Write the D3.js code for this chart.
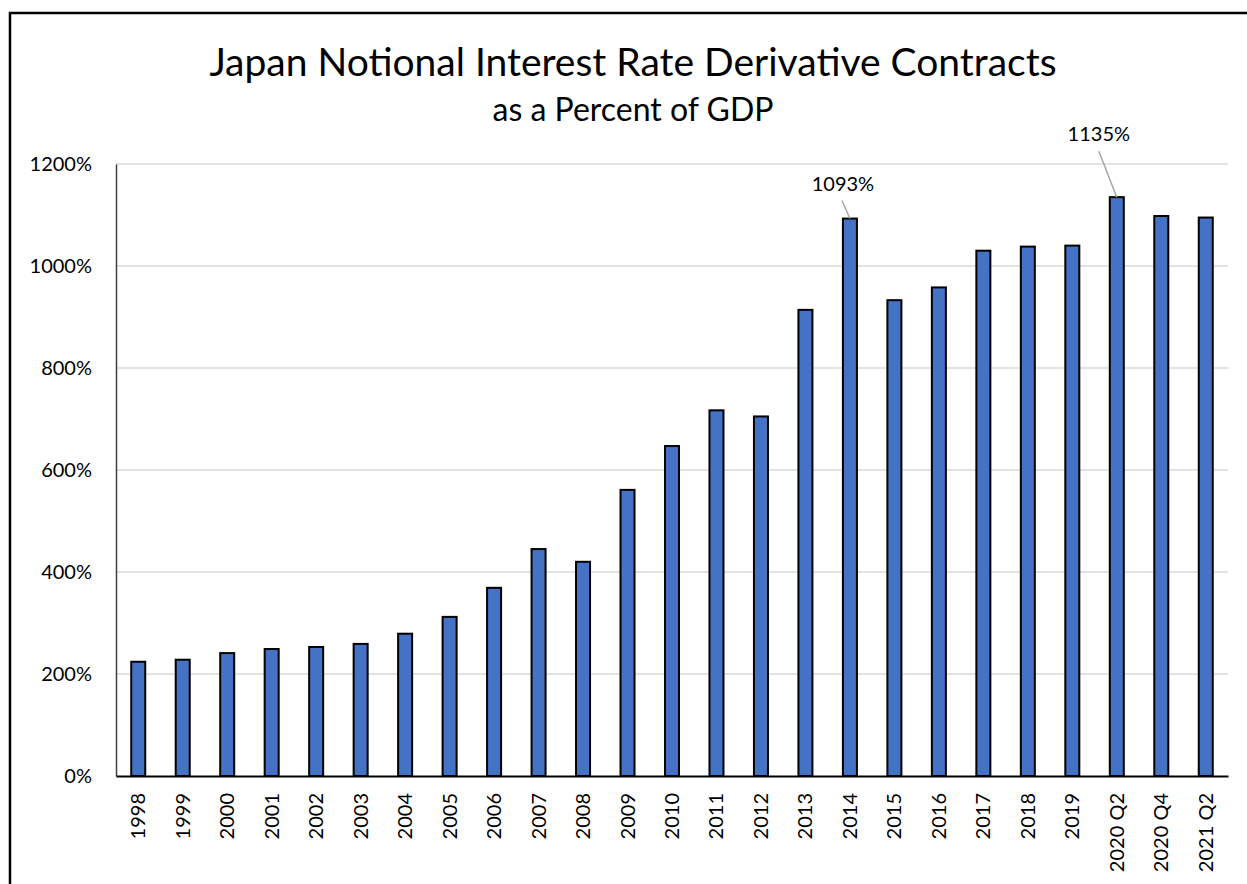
<!DOCTYPE html>
<html>
<head>
<meta charset="utf-8">
<script src="https://cdn.jsdelivr.net/npm/d3@7"></script>
<style>
  html, body { margin: 0; padding: 0; background: #fff; }
  svg { display: block; font-family: Lato, "Open Sans", sans-serif; }
</style>
</head>
<body>
<svg id="chart" width="1247" height="884"></svg>
<script>
// Notional interest rate derivative contracts in Japan, % of GDP
const categories = ["1998", "1999", "2000", "2001", "2002", "2003", "2004", "2005",
  "2006", "2007", "2008", "2009", "2010", "2011", "2012", "2013", "2014", "2015",
  "2016", "2017", "2018", "2019", "2020 Q2", "2020 Q4", "2021 Q2"];
const values = [224, 228, 241, 249, 253, 259, 279, 312, 369, 445, 420, 561, 647,
  717, 705, 914, 1093, 933, 958, 1030, 1038, 1040, 1135, 1098, 1095];
const yTicks = [0, 200, 400, 600, 800, 1000, 1200];
const labelled = ["2014", "2020 Q2"];

const titleText = "Japan Notional Interest Rate Derivative Contracts";
const subtitleText = "as a Percent of GDP";

// callout placement relative to the top of the bar: text centre offset and rise
const calloutLayout = {
  "2014": { dx: -7, textRise: 28, lineDx: -8, lineRise: 18 },
  "2020 Q2": { dx: -18, textRise: 56, lineDx: -18, lineRise: 46 }
};

const svg = d3.select("#chart");
const W = 1247, H = 884;
const margin = { left: 116, right: 19, top: 164, bottom: 108 };
const plotW = W - margin.left - margin.right;
const plotH = H - margin.top - margin.bottom;

svg.append("rect").attr("width", W).attr("height", H).attr("fill", "#fff");

// chart frame (runs off the right and bottom edges)
svg.append("rect")
  .attr("x", 10).attr("y", 13)
  .attr("width", W + 20).attr("height", H + 20)
  .attr("fill", "none").attr("stroke", "#000").attr("stroke-width", 2.5);

// titles
svg.append("text")
  .attr("x", 633).attr("y", 76)
  .attr("text-anchor", "middle")
  .attr("font-size", 39)
  .attr("fill", "#000")
  .text(titleText);
svg.append("text")
  .attr("x", 633).attr("y", 121)
  .attr("text-anchor", "middle")
  .attr("font-size", 32)
  .attr("fill", "#000")
  .text(subtitleText);

const g = svg.append("g").attr("transform", `translate(${margin.left},${margin.top})`);

const x = d3.scaleBand()
  .domain(categories)
  .range([0, plotW])
  .paddingInner(0.685)
  .paddingOuter(0.3425);

const y = d3.scaleLinear().domain([0, 1200]).range([plotH, 0]);

// horizontal gridlines
g.append("g")
  .selectAll("line")
  .data(yTicks.filter(d => d > 0))
  .join("line")
  .attr("x1", 0).attr("x2", plotW)
  .attr("y1", d => y(d)).attr("y2", d => y(d))
  .attr("stroke", "#d9d9d9").attr("stroke-width", 1.5);

// y axis labels
const yAxis = d3.axisLeft(y)
  .tickValues(yTicks)
  .tickSize(0)
  .tickPadding(24)
  .tickFormat(d => d + "%");
const yg = g.append("g").call(yAxis);
yg.select(".domain").attr("stroke", "#404040").attr("stroke-width", 1.5);
yg.selectAll("text").attr("font-size", 20).attr("font-family", "Lato").attr("fill", "#000");

// bars
const data = categories.map((c, i) => ({ cat: c, val: values[i] }));
g.append("g")
  .selectAll("rect")
  .data(data)
  .join("rect")
  .attr("x", d => x(d.cat))
  .attr("y", d => y(d.val))
  .attr("width", x.bandwidth())
  .attr("height", d => y(0) - y(d.val))
  .attr("fill", "#4472c4")
  .attr("stroke", "#000")
  .attr("stroke-width", 2);

// x axis with rotated labels
const xAxis = d3.axisBottom(x).tickSize(0).tickPadding(0);
const xg = g.append("g").attr("transform", `translate(0,${plotH})`).call(xAxis);
xg.select(".domain").attr("stroke", "#000").attr("stroke-width", 2);
xg.selectAll(".tick text")
  .attr("font-size", 20)
  .attr("font-family", "Lato")
  .attr("fill", "#000")
  .attr("text-anchor", "end")
  .attr("transform", "translate(0,17) rotate(-90)")
  .attr("x", 0)
  .attr("y", 0)
  .attr("dy", "0.35em");

// value callouts with leader lines
const callouts = data.filter(d => labelled.includes(d.cat));
const cg = g.append("g");
callouts.forEach(d => {
  const cx = x(d.cat) + x.bandwidth() / 2;
  const top = y(d.val);
  const p = calloutLayout[d.cat];
  cg.append("line")
    .attr("x1", cx + p.lineDx).attr("y1", top - p.lineRise)
    .attr("x2", cx).attr("y2", top)
    .attr("stroke", "#a6a6a6").attr("stroke-width", 1.5);
  cg.append("text")
    .attr("x", cx + p.dx).attr("y", top - p.textRise)
    .attr("text-anchor", "middle")
    .attr("font-size", 20)
    .attr("fill", "#000")
    .text(d.val + "%");
});
</script>
</body>
</html>
